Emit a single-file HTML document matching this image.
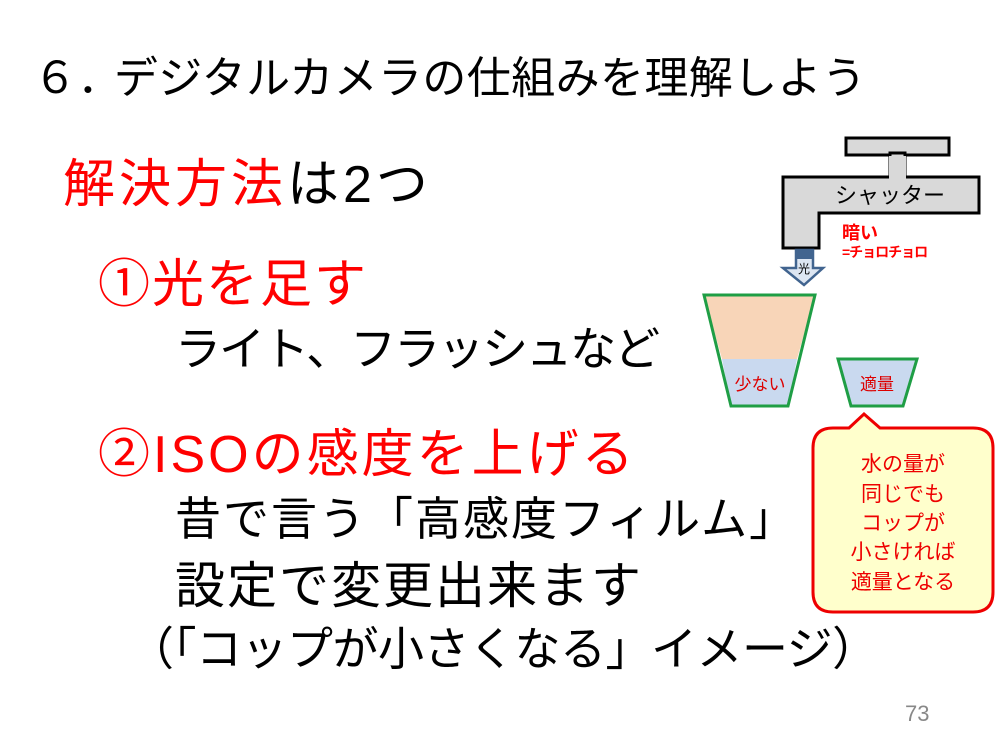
<!DOCTYPE html>
<html><head><meta charset="utf-8"><style>
body{margin:0;width:999px;height:747px;background:#fff;position:relative;overflow:hidden;font-family:"Liberation Sans","Noto Sans CJK JP",sans-serif}
.t{position:absolute;white-space:nowrap;line-height:1}
.r{color:#f00}
</style></head><body>
<div class="t" style="left:33px;top:57px;font-size:44px;letter-spacing:0.4px">６．<span style="margin-left:-8px">デジタルカメラの仕組みを理解しよう</span></div>
<div class="t" style="left:63px;top:159px;font-size:52px;letter-spacing:4px"><span class="r">解決方法</span>は2つ</div>
<div class="t r" style="left:98px;top:259px;font-size:52px;letter-spacing:2px">①光を足す</div>
<div class="t" style="left:175px;top:326px;font-size:46px;letter-spacing:-2px">ライト、フラッシュなど</div>
<div class="t r" style="left:98px;top:429px;font-size:52px;letter-spacing:3px">②ISOの感度を上げる</div>
<div class="t" style="left:175px;top:496px;font-size:46px;letter-spacing:2px">昔で言う「高感度フィルム」</div>
<div class="t" style="left:175px;top:561px;font-size:50px;letter-spacing:2px">設定で変更出来ます</div>
<div class="t" style="left:128px;top:626px;font-size:46px;letter-spacing:-0.5px">（「コップが小さくなる」イメージ）</div>
<div class="t" style="left:905px;top:703px;font-size:22px;color:#888">73</div>

<svg width="999" height="747" style="position:absolute;left:0;top:0">
 <rect x="846" y="138" width="103" height="17" fill="#d9d9d9" stroke="#000" stroke-width="3"/>
 <rect x="890" y="153" width="15" height="26" fill="#d9d9d9" stroke="#000" stroke-width="3"/>
 <path d="M783 177 H979 V213 H819 V248 H783 Z" fill="#d9d9d9" stroke="#000" stroke-width="3"/>
 <rect x="889" y="156" width="17" height="24" fill="#d9d9d9"/>
 <text x="890" y="203" font-size="22" text-anchor="middle" font-family="Liberation Sans,Noto Sans CJK JP,sans-serif">シャッター</text>
 <text x="842" y="239" font-size="18" font-weight="bold" fill="#f00" font-family="Liberation Sans,Noto Sans CJK JP,sans-serif">暗い</text>
 <text x="842" y="257" font-size="14" font-weight="bold" fill="#f00" letter-spacing="-1" font-family="Liberation Sans,Noto Sans CJK JP,sans-serif">=チョロチョロ</text>
 <path d="M796 250 H813 V268 H823 L804 285 L783 268 H796 Z" fill="#dde6f2" stroke="#41648f" stroke-width="2.5"/>
 <rect x="797" y="251" width="15" height="8" fill="#41648f"/>
 <text x="804" y="273" font-size="12" text-anchor="middle" font-family="Liberation Sans,Noto Sans CJK JP,sans-serif">光</text>
 <path d="M704 295 H815 L797 359 H722 Z" fill="#f8d5b8"/>
 <path d="M722 359 H797 L788 406 H731 Z" fill="#c9d9ef"/>
 <path d="M704 295 H815 L788 406 H731 Z" fill="none" stroke="#1f9e45" stroke-width="3"/>
 <text x="760" y="390" font-size="17" fill="#d00" text-anchor="middle" font-family="Liberation Sans,Noto Sans CJK JP,sans-serif">少ない</text>
 <path d="M838 359 H917 L903 406 H851 Z" fill="#c9d9ef" stroke="#1f9e45" stroke-width="3"/>
 <text x="877" y="390" font-size="17" fill="#d00" text-anchor="middle" font-family="Liberation Sans,Noto Sans CJK JP,sans-serif">適量</text>
 <path d="M833 428 H849 L864 414 L880 428 H973 Q993 428 993 448 V592 Q993 612 973 612 H833 Q813 612 813 592 V448 Q813 428 833 428 Z" fill="#ffffcc" stroke="#e00" stroke-width="3"/>
 <g font-size="21" fill="#e00" text-anchor="middle" font-family="Liberation Sans,Noto Sans CJK JP,sans-serif">
  <text x="903" y="471">水の量が</text>
  <text x="903" y="501">同じでも</text>
  <text x="903" y="530">コップが</text>
  <text x="903" y="559">小さければ</text>
  <text x="903" y="589">適量となる</text>
 </g>
</svg>
</body></html>
